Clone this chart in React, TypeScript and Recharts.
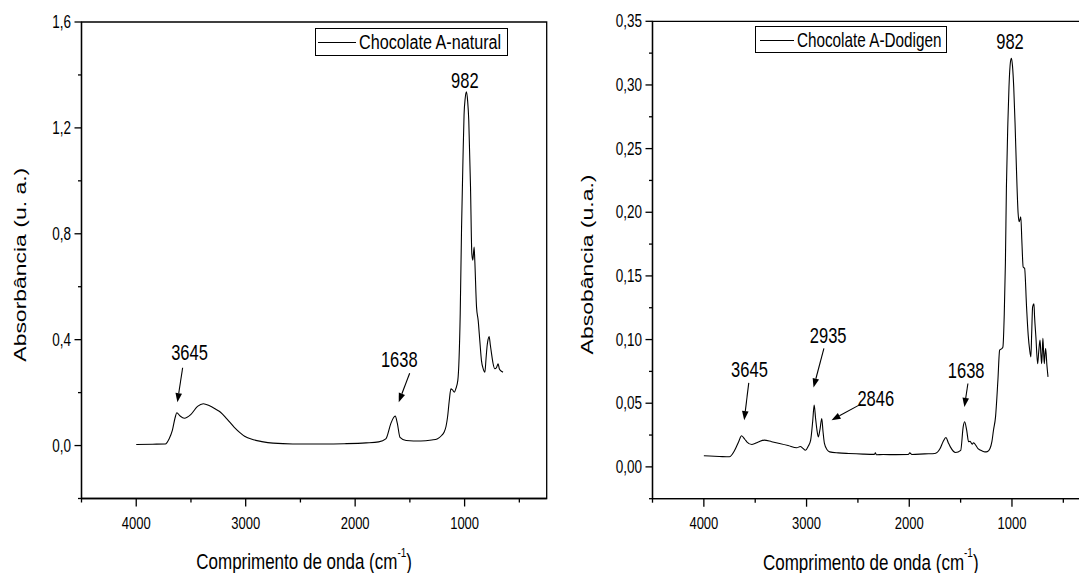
import { Label, Legend, Line, LineChart, ReferenceArea, ReferenceDot, ReferenceLine, XAxis, YAxis } from "recharts";

const FONT = "'Liberation Sans', Arial, sans-serif";
// the source figure is squashed sideways, so every text is drawn a bit taller than wide
const STRETCH = 1.3;

const WN_TICKS = [4500, 4000, 3500, 3000, 2500, 2000, 1500, 1000, 500];
const WN_MAJOR = [4000, 3000, 2000, 1000];
const WN_DOMAIN = [250, 4500];

const NATURAL_Y_TICKS = [-0.2, 0, 0.2, 0.4, 0.6, 0.8, 1.0, 1.2, 1.4, 1.6];
const NATURAL_Y_MAJOR = [0, 0.4, 0.8, 1.2, 1.6];
const DODIGEN_Y_TICKS = [-0.025, 0, 0.025, 0.05, 0.075, 0.1, 0.125, 0.15, 0.175, 0.2, 0.225, 0.25, 0.275, 0.3, 0.325, 0.35];
const DODIGEN_Y_MAJOR = [0, 0.05, 0.1, 0.15, 0.2, 0.25, 0.3, 0.35];

const NATURAL_WN = [
  4000, 3850, 3733, 3700, 3670, 3645, 3629, 3600, 3560, 3500, 3440, 3387, 3330, 3270, 3230, 3170, 3104, 3050,
  3010, 2930, 2853, 2750, 2570, 2300, 2099, 1900, 1785, 1720, 1675, 1650, 1634, 1615, 1590, 1534, 1400, 1300,
  1251, 1210, 1188, 1170, 1156, 1140, 1125, 1110, 1094, 1080, 1062, 1040, 1028, 1015, 1005, 995, 983, 972, 962,
  946, 934, 925, 913, 907, 891, 876, 860, 846, 830, 815, 804, 794, 786, 776, 765, 754, 740, 724, 708, 694, 683,
  673, 660, 649,
];
const NATURAL_ABS = [
  0.004, 0.005, 0.006, 0.025, 0.057, 0.105, 0.124, 0.112, 0.103, 0.118, 0.148, 0.158, 0.15, 0.136, 0.126, 0.1,
  0.069, 0.048, 0.035, 0.022, 0.015, 0.009, 0.006, 0.006, 0.007, 0.01, 0.014, 0.025, 0.082, 0.105, 0.111, 0.085,
  0.031, 0.019, 0.017, 0.021, 0.025, 0.038, 0.05, 0.072, 0.107, 0.17, 0.214, 0.21, 0.202, 0.215, 0.246, 0.5,
  0.82, 1.08, 1.25, 1.31, 1.336, 1.3, 1.229, 0.977, 0.725, 0.7, 0.75, 0.7, 0.523, 0.473, 0.39, 0.321, 0.29, 0.277,
  0.33, 0.378, 0.4, 0.412, 0.38, 0.347, 0.31, 0.29, 0.295, 0.309, 0.29, 0.284, 0.28, 0.277,
];

const DODIGEN_WN = [
  4000, 3850, 3752, 3700, 3660, 3633, 3600, 3582, 3532, 3470, 3413, 3340, 3263, 3180, 3095, 3061, 3035, 3011,
  2985, 2960, 2940, 2926, 2912, 2899, 2886, 2870, 2852, 2840, 2826, 2800, 2775, 2690, 2590, 2450, 2340, 2330,
  2320, 2254, 2130, 2010, 1995, 1975, 1850, 1750, 1700, 1670, 1643, 1620, 1600, 1549, 1499, 1475, 1461, 1441,
  1422, 1408, 1387, 1375, 1331, 1290, 1264, 1240, 1214, 1195, 1180, 1160, 1137, 1120, 1097, 1088, 1075, 1064,
  1054, 1040, 1029, 1015, 1005, 995, 983, 970, 956, 940, 930, 920, 914, 904, 891, 877, 858, 842, 828, 816, 808,
  799, 786, 780, 767, 750, 740, 727, 718, 711, 705, 699, 692, 685, 679, 672, 660, 649,
];
const DODIGEN_ABS = [
  0.0087, 0.0082, 0.0079, 0.013, 0.02, 0.0244, 0.0215, 0.0197, 0.0176, 0.0195, 0.021, 0.0198, 0.0184, 0.0168,
  0.015, 0.016, 0.0145, 0.013, 0.016, 0.021, 0.036, 0.0485, 0.038, 0.029, 0.0236, 0.029, 0.038, 0.028, 0.0184,
  0.0135, 0.0118, 0.011, 0.0105, 0.01, 0.0098, 0.011, 0.0095, 0.0097, 0.0096, 0.0097, 0.011, 0.0097, 0.0102,
  0.0105, 0.0144, 0.02, 0.0231, 0.019, 0.0157, 0.0113, 0.013, 0.0314, 0.0354, 0.0288, 0.0197, 0.02, 0.0178, 0.019,
  0.0144, 0.0125, 0.0118, 0.012, 0.0144, 0.02, 0.0288, 0.0393, 0.068, 0.0917, 0.093, 0.0943, 0.12, 0.16, 0.22,
  0.27, 0.2986, 0.318, 0.321, 0.315, 0.2986, 0.27, 0.233, 0.199, 0.1925, 0.195, 0.1965, 0.178, 0.157, 0.156,
  0.1257, 0.1035, 0.092, 0.0864, 0.105, 0.1257, 0.128, 0.118, 0.102, 0.081, 0.09, 0.0996, 0.088, 0.081, 0.09,
  0.101, 0.09, 0.081, 0.088, 0.093, 0.08, 0.0707,
];

type Note = { text: string; x: number; y: number };
type Arrow = { x1: number; y1: number; x2: number; y2: number };

const NATURAL_NOTES: Note[] = [
  { text: "982", x: 998, y: 1.377 },
  { text: "3645", x: 3513, y: 0.349 },
  { text: "1638", x: 1597, y: 0.325 },
];
const NATURAL_ARROWS: Arrow[] = [
  { x1: 3576, y1: 0.294, x2: 3624, y2: 0.164 },
  { x1: 1502, y1: 0.273, x2: 1602, y2: 0.164 },
];
const DODIGEN_NOTES: Note[] = [
  { text: "982", x: 1019, y: 0.334 },
  { text: "3645", x: 3556, y: 0.0765 },
  { text: "2935", x: 2790, y: 0.1027 },
  { text: "2846", x: 2326, y: 0.0537 },
  { text: "1638", x: 1446, y: 0.0754 },
];
const DODIGEN_ARROWS: Arrow[] = [
  { x1: 3563, y1: 0.066, x2: 3607, y2: 0.0367 },
  { x1: 2831, y1: 0.093, x2: 2932, y2: 0.0624 },
  { x1: 2471, y1: 0.0493, x2: 2757, y2: 0.0367 },
  { x1: 1429, y1: 0.0655, x2: 1463, y2: 0.0471 },
];

const isIn = (list: number[], v: number) => list.some((m) => Math.abs(m - v) < 1e-9);

function StretchText({ x, y, text, size, anchor = "middle", rotate = false, k = STRETCH }: any) {
  const t = `translate(${x},${y}) scale(1,${k})${rotate ? " rotate(-90)" : ""}`;
  return (
    <text transform={t} textAnchor={anchor} dominantBaseline="central" fontSize={size} fontFamily={FONT} fill="#000">
      {text}
    </text>
  );
}

function XTick({ x, y, payload }: any) {
  const major = isIn(WN_MAJOR, payload.value);
  return (
    <g>
      <line x1={x} x2={x} y1={y} y2={y + (major ? 8 : 4)} stroke="#000" strokeWidth={1.3} />
      {major && <StretchText x={x} y={y + 24.5} text={String(payload.value)} size={13} />}
    </g>
  );
}

const makeYTick = (majors: number[], decimals: number) =>
  function YTick({ x, y, payload }: any) {
    const major = isIn(majors, payload.value);
    return (
      <g>
        <line x1={x - (major ? 7 : 3.5)} x2={x} y1={y} y2={y} stroke="#000" strokeWidth={1.3} />
        {major && (
          <StretchText x={x - 10.5} y={y} anchor="end" size={13.5} text={payload.value.toFixed(decimals).replace(".", ",")} />
        )}
      </g>
    );
  };

function ArrowShape({ x1, y1, x2, y2 }: any) {
  const ang = Math.atan2(y2 - y1, x2 - x1);
  const bx = x2 - 9 * Math.cos(ang);
  const by = y2 - 9 * Math.sin(ang);
  const px = -Math.sin(ang) * 3.3;
  const py = Math.cos(ang) * 3.3;
  return (
    <g>
      <line x1={x1} y1={y1} x2={bx} y2={by} stroke="#000" strokeWidth={1.1} />
      <polygon points={`${x2},${y2} ${bx + px},${by + py} ${bx - px},${by - py}`} fill="#000" />
    </g>
  );
}

function BoxLegend({ payload, boxWidth, lineLeft, lineWidth, textLeft, fontSize }: any) {
  const name = payload?.[0]?.value;
  return (
    <div
      style={{
        width: boxWidth,
        height: 27.4,
        border: "1px solid #000",
        boxSizing: "border-box",
        position: "relative",
        background: "#fff",
      }}
    >
      <div style={{ position: "absolute", left: lineLeft, top: 12.5, width: lineWidth, borderTop: "1px solid #000" }} />
      <span
        style={{
          position: "absolute",
          left: textLeft,
          top: 0,
          lineHeight: "25px",
          fontFamily: FONT,
          fontSize,
          color: "#000",
          whiteSpace: "nowrap",
          transform: `scaleY(${STRETCH})`,
        }}
      >
        {name}
      </span>
    </div>
  );
}

function Panel({ left, width, margin, yAxisWidth, xAxisHeight, wn, abs, name, yDomain, yTicks, yMajor, decimals, notes, arrows, legendPos, legendBox, yTitle, xTitleDx, yTitleDx }: any) {
  const data = wn.map((w: number, i: number) => ({ wn: w, abs: abs[i] }));
  const YTick = makeYTick(yMajor, decimals);
  return (
    <div style={{ position: "absolute", left, top: 0 }}>
      <LineChart width={width} height={573} data={data} margin={margin}>
        <ReferenceArea x1={WN_DOMAIN[1]} x2={WN_DOMAIN[0]} y1={yDomain[0]} y2={yDomain[1]} fill="none" stroke="#000" strokeWidth={1.3} />
        <XAxis
          type="number"
          dataKey="wn"
          domain={WN_DOMAIN}
          reversed
          allowDataOverflow
          ticks={WN_TICKS}
          interval={0}
          height={xAxisHeight}
          axisLine={{ stroke: "#000", strokeWidth: 1.3 }}
          tickLine={false}
          tickSize={0}
          tickMargin={0}
          tick={<XTick />}
        >
          <Label
            content={({ viewBox }: any) => {
              const cx = viewBox.x + viewBox.width / 2 + xTitleDx;
              const cy = viewBox.y + 63;
              return (
                <text
                  transform={`translate(${cx},${cy}) scale(1,${STRETCH})`}
                  textAnchor="middle"
                  dominantBaseline="central"
                  fontSize={17}
                  fontFamily={FONT}
                  fill="#000"
                >
                  Comprimento de onda (cm
                  <tspan fontSize={10} dy={-7}>-1</tspan>
                  <tspan dy={7}>)</tspan>
                </text>
              );
            }}
          />
        </XAxis>
        <YAxis
          type="number"
          domain={yDomain}
          allowDataOverflow
          ticks={yTicks}
          interval={0}
          width={yAxisWidth}
          axisLine={{ stroke: "#000", strokeWidth: 1.3 }}
          tickLine={false}
          tickSize={0}
          tickMargin={0}
          tick={<YTick />}
        >
          <Label
            content={({ viewBox }: any) => (
              <StretchText
                x={viewBox.x + viewBox.width + yTitleDx}
                y={viewBox.y + viewBox.height / 2 + 4.5}
                text={yTitle}
                size={17}
                rotate
                k={1.35}
              />
            )}
          />
        </YAxis>
        <Legend
          layout="horizontal"
          verticalAlign="middle"
          align="center"
          wrapperStyle={{ left: legendPos[0], top: legendPos[1], width: legendBox.boxWidth, height: 28 }}
          content={(p: any) => <BoxLegend {...p} {...legendBox} />}
        />
        {arrows.map((a: Arrow, i: number) => (
          <ReferenceLine key={`a${i}`} segment={[{ x: a.x1, y: a.y1 }, { x: a.x2, y: a.y2 }]} shape={(p: any) => <ArrowShape {...p} />} />
        ))}
        {notes.map((n: Note) => (
          <ReferenceDot
            key={n.text}
            x={n.x}
            y={n.y}
            r={0}
            shape={(p: any) => <StretchText x={p.cx} y={p.cy} text={n.text} size={16.5} />}
          />
        ))}
        <Line
          type="monotone"
          dataKey="abs"
          name={name}
          stroke="#000"
          strokeWidth={1.1}
          dot={false}
          activeDot={false}
          isAnimationActive={false}
        />
      </LineChart>
    </div>
  );
}

export default function App() {
  return (
    <div style={{ position: "absolute", left: 0, top: 0, width: 1079, height: 573, overflow: "hidden", background: "#fff" }}>
      <Panel
        left={0}
        width={560}
        margin={{ top: 22, right: 13.3, bottom: 0, left: 0 }}
        yAxisWidth={81.5}
        xAxisHeight={74.5}
        wn={NATURAL_WN}
        abs={NATURAL_ABS}
        name="Chocolate A-natural"
        yDomain={[-0.2, 1.6]}
        yTicks={NATURAL_Y_TICKS}
        yMajor={NATURAL_Y_MAJOR}
        decimals={1}
        notes={NATURAL_NOTES}
        arrows={NATURAL_ARROWS}
        legendPos={[315, 28.3]}
        legendBox={{ boxWidth: 192.6, lineLeft: 1.8, lineWidth: 38, textLeft: 43, fontSize: 16.2 }}
        yTitle="Absorbância (u. a.)"
        xTitleDx={-10}
        yTitleDx={-61.5}
      />
      <Panel
        left={560}
        width={560}
        margin={{ top: 21.3, right: 31, bottom: 0, left: 0 }}
        yAxisWidth={92.5}
        xAxisHeight={74.3}
        wn={DODIGEN_WN}
        abs={DODIGEN_ABS}
        name="Chocolate A-Dodigen"
        yDomain={[-0.025, 0.35]}
        yTicks={DODIGEN_Y_TICKS}
        yMajor={DODIGEN_Y_MAJOR}
        decimals={2}
        notes={DODIGEN_NOTES}
        arrows={DODIGEN_ARROWS}
        legendPos={[194.9, 26]}
        legendBox={{ boxWidth: 191.8, lineLeft: 3.7, lineWidth: 34, textLeft: 41, fontSize: 15.3 }}
        yTitle="Absobância (u.a.)"
        xTitleDx={0}
        yTitleDx={-65.5}
      />
    </div>
  );
}
